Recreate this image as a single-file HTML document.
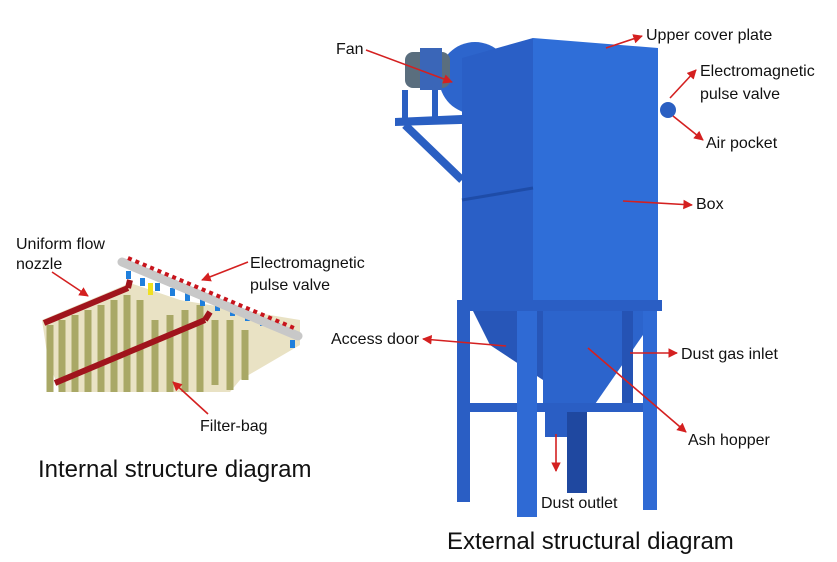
<!DOCTYPE html>
<html><head><style>
body{margin:0;background:#fff;}
svg{display:block;}
text{font-family:"Liberation Sans",sans-serif;fill:#111;}
</style></head><body>
<svg width="837" height="562" viewBox="0 0 837 562">
<defs>
<marker id="a" viewBox="0 0 10 10" refX="9" refY="5" markerWidth="6" markerHeight="6" orient="auto"><path d="M0,0L10,5L0,10z" fill="#d42020"/></marker>
</defs>
<rect width="837" height="562" fill="#fff"/>
<g>
<polygon points="42,320 130,283 180,300 300,320 300,345 240,380 230,392 60,392 48,360" fill="#e9e2c4"/>
<g stroke="#a9a866" stroke-width="7">
<line x1="50" y1="325" x2="50" y2="392"/><line x1="62" y1="320" x2="62" y2="392"/><line x1="75" y1="315" x2="75" y2="392"/>
<line x1="88" y1="310" x2="88" y2="392"/><line x1="101" y1="305" x2="101" y2="392"/><line x1="114" y1="300" x2="114" y2="392"/>
<line x1="127" y1="295" x2="127" y2="392"/><line x1="140" y1="300" x2="140" y2="392"/><line x1="155" y1="320" x2="155" y2="392"/>
<line x1="170" y1="315" x2="170" y2="392"/><line x1="185" y1="310" x2="185" y2="392"/><line x1="200" y1="305" x2="200" y2="392"/>
<line x1="215" y1="320" x2="215" y2="385"/><line x1="230" y1="320" x2="230" y2="390"/><line x1="245" y1="330" x2="245" y2="380"/>
</g>
<line x1="44" y1="323" x2="128" y2="288" stroke="#a0141c" stroke-width="6"/>
<line x1="128" y1="288" x2="130" y2="280" stroke="#a0141c" stroke-width="6"/>
<line x1="55" y1="383" x2="205" y2="320" stroke="#a0141c" stroke-width="6"/>
<line x1="205" y1="320" x2="210" y2="312" stroke="#a0141c" stroke-width="6"/>
<g fill="#1f7fdc">
<rect x="126" y="271" width="5" height="8"/><rect x="140" y="278" width="5" height="8"/><rect x="155" y="283" width="5" height="8"/><rect x="170" y="288" width="5" height="8"/><rect x="185" y="293" width="5" height="8"/><rect x="200" y="298" width="5" height="8"/><rect x="215" y="303" width="5" height="8"/><rect x="230" y="308" width="5" height="8"/><rect x="245" y="313" width="5" height="8"/><rect x="260" y="318" width="5" height="8"/><rect x="275" y="323" width="5" height="8"/><rect x="290" y="340" width="5" height="8"/>
</g>
<rect x="148" y="283" width="5" height="12" fill="#f0e020"/>
<line x1="122" y1="262" x2="298" y2="336" stroke="#c8c8c8" stroke-width="9" stroke-linecap="round"/>
<g stroke="#c8141c" stroke-width="4" stroke-dasharray="4 4"><line x1="128" y1="258" x2="294" y2="328"/></g>
</g>
<g font-size="16">
<text x="16" y="249">Uniform flow</text>
<text x="16" y="269">nozzle</text>
<text x="250" y="268">Electromagnetic</text>
<text x="250" y="290">pulse valve</text>
<text x="200" y="431">Filter-bag</text>
</g>
<line x1="52" y1="272" x2="88" y2="296" stroke="#d42020" stroke-width="1.6" marker-end="url(#a)"/>
<line x1="248" y1="262" x2="202" y2="280" stroke="#d42020" stroke-width="1.6" marker-end="url(#a)"/>
<line x1="208" y1="414" x2="173" y2="382" stroke="#d42020" stroke-width="1.6" marker-end="url(#a)"/>
<text x="38" y="477" font-size="24">Internal structure diagram</text>

<g>
<polygon points="395,118 527,112 527,122 395,126" fill="#2a5fc2"/>
<line x1="405" y1="125" x2="462" y2="180" stroke="#2a5fc2" stroke-width="8"/>
<rect x="402" y="90" width="6" height="32" fill="#2a5fc2"/>
<rect x="432" y="90" width="6" height="32" fill="#2a5fc2"/>
<circle cx="475" cy="78" r="36" fill="#2d65cc"/>
<rect x="480" y="52" width="28" height="45" rx="10" fill="#3570d4"/>
<rect x="405" y="52" width="45" height="36" rx="8" fill="#5a6e7e"/>
<rect x="420" y="48" width="22" height="42" fill="#3a66b8"/>
<polygon points="462,58 533,38 533,300 462,300" fill="#2a5fc6"/>
<polygon points="533,38 658,48 658,300 533,300" fill="#2f6ed8"/>
<line x1="462" y1="200" x2="533" y2="188" stroke="#1e4ca8" stroke-width="3"/>
<circle cx="668" cy="110" r="8" fill="#2a5fc2"/>
<rect x="457" y="300" width="205" height="11" fill="#2a5ec4"/>
<polygon points="473,311 543,311 543,380 490,345" fill="#2756b8"/>
<polygon points="543,311 643,311 643,335 593,407 543,407" fill="#2c64cc"/>
<rect x="457" y="311" width="13" height="191" fill="#2a5ec4"/>
<rect x="622" y="311" width="11" height="92" fill="#2553b4"/>
<rect x="567" y="410" width="20" height="83" fill="#1f48a0"/>
<rect x="470" y="403" width="175" height="9" fill="#2a5ec4"/>
<rect x="517" y="311" width="20" height="206" fill="#2f6ad4"/>
<rect x="643" y="311" width="14" height="199" fill="#2f6ad4"/>
<rect x="545" y="410" width="22" height="27" fill="#2a5ec4"/>
</g>
<g font-size="16">
<text x="336" y="54">Fan</text>
<text x="646" y="40">Upper cover plate</text>
<text x="700" y="76">Electromagnetic</text>
<text x="700" y="99">pulse valve</text>
<text x="706" y="148">Air pocket</text>
<text x="696" y="209">Box</text>
<text x="331" y="344">Access door</text>
<text x="681" y="359">Dust gas inlet</text>
<text x="688" y="445">Ash hopper</text>
<text x="541" y="508">Dust outlet</text>
</g>
<g stroke="#d42020" stroke-width="1.6" fill="none">
<line x1="366" y1="50" x2="452" y2="82" marker-end="url(#a)"/>
<line x1="606" y1="48" x2="642" y2="36" marker-end="url(#a)"/>
<line x1="670" y1="98" x2="696" y2="70" marker-end="url(#a)"/>
<line x1="673" y1="116" x2="703" y2="140" marker-end="url(#a)"/>
<line x1="623" y1="201" x2="692" y2="205" marker-end="url(#a)"/>
<line x1="506" y1="346" x2="423" y2="339" marker-end="url(#a)"/>
<line x1="630" y1="353" x2="677" y2="353" marker-end="url(#a)"/>
<line x1="588" y1="348" x2="686" y2="432" marker-end="url(#a)"/>
<line x1="556" y1="434" x2="556" y2="471" marker-end="url(#a)"/>
</g>
<text x="447" y="549" font-size="24">External structural diagram</text>
</svg>
</body></html>
